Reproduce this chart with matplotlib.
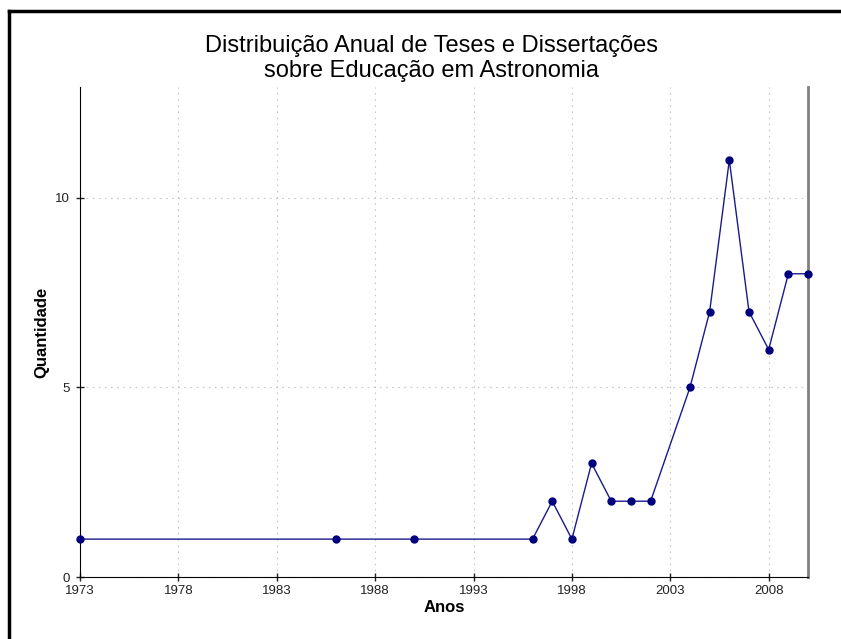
import matplotlib.pyplot as plt
from matplotlib.lines import Line2D

# annual count of theses/dissertations
anos = [1973, 1986, 1990, 1996, 1997, 1998, 1999, 2000, 2001, 2002,
        2004, 2005, 2006, 2007, 2008, 2009, 2010]
quantidade = [1, 1, 1, 1, 2, 1, 3, 2, 2, 2, 5, 7, 11, 7, 6, 8, 8]
xticks = [1973, 1978, 1983, 1988, 1993, 1998, 2003, 2008]
yticks = [0, 5, 10]

plt.rcParams['font.family'] = ['Liberation Sans', 'DejaVu Sans']

fig = plt.figure(figsize=(8.41, 6.39), dpi=100)
ax = fig.add_axes([0.0951, 0.097, 0.8657, 0.767])

ax.plot(anos, quantidade, color='#1a1a8c', linewidth=1.0,
        marker='o', markersize=5, markerfacecolor='#00007f',
        markeredgecolor='#00007f', clip_on=False, zorder=3)

ax.set_xlim(1973, 2010)
ax.set_ylim(0, 12.93)
ax.set_xticks(xticks)
ax.set_yticks(yticks)
ax.tick_params(axis='both', labelsize=9.5, colors='#222222', length=6,
               direction='inout', width=1, pad=3)
ax.tick_params(axis='y', pad=4)
ax.grid(True, linestyle=(0, (1.5, 4)), color='#c8c8c8', linewidth=0.8)
ax.set_axisbelow(True)

ax.spines['top'].set_visible(False)
ax.spines['right'].set_color('#808080')
ax.spines['right'].set_linewidth(2)
ax.spines['left'].set_color('black')
ax.spines['bottom'].set_color('black')

ax.set_xlabel('Anos', fontsize=12, fontweight='bold', labelpad=2)
ax.set_ylabel('Quantidade', fontsize=12, fontweight='bold', labelpad=4)

fig.text(0.513, 0.872, 'Distribuição Anual de Teses e Dissertações\nsobre Educação em Astronomia',
         ha='center', va='bottom', fontsize=17, linespacing=1.15)

# outer frame (left and top edges visible)
fig.add_artist(Line2D([0.0107, 0.0107], [0.0, 0.983], transform=fig.transFigure,
                      color='black', linewidth=2.5))
fig.add_artist(Line2D([0.0107, 1.0], [0.983, 0.983], transform=fig.transFigure,
                      color='black', linewidth=2.5))

fig.savefig('out.png', dpi=100)
